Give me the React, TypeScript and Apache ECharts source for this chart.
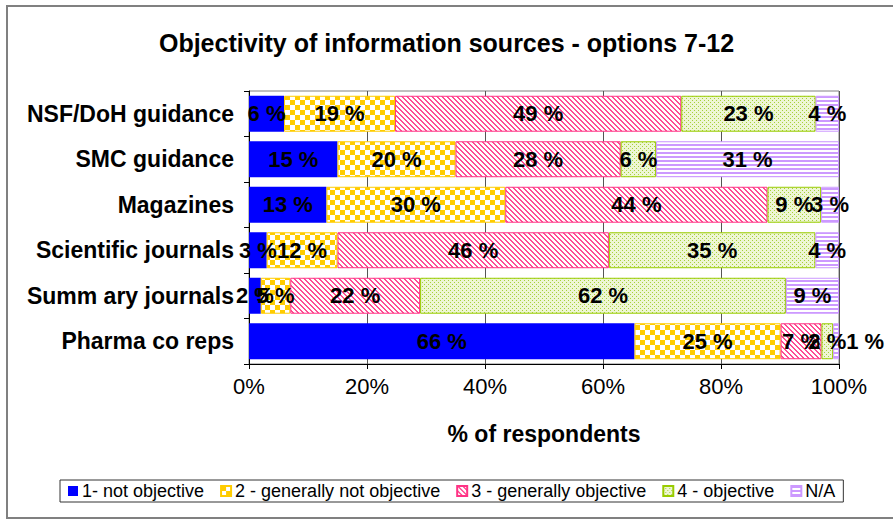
import React, { useEffect, useRef } from "react";
import * as echarts from "echarts";

const categories = [
  "Pharma co reps",
  "Summ ary journals",
  "Scientific journals",
  "Magazines",
  "SMC guidance",
  "NSF/DoH guidance",
];
const seriesNames = [
  "1- not objective",
  "2 - generally not objective",
  "3 - generally objective",
  "4 - objective",
  "N/A",
];
const notObjective = [66, 2, 3, 13, 15, 6];
const generallyNotObjective = [25, 5, 12, 30, 20, 19];
const generallyObjective = [7, 22, 46, 44, 28, 49];
const objective = [2, 62, 35, 9, 6, 23];
const notApplicable = [1, 9, 4, 3, 31, 4];
const xTicks = [0, 20, 40, 60, 80, 100];

const FONT = "'Liberation Sans', Arial, sans-serif";

function tile(w: number, h: number, draw: (c: CanvasRenderingContext2D) => void) {
  const c = document.createElement("canvas");
  c.width = w;
  c.height = h;
  const ctx = c.getContext("2d")!;
  draw(ctx);
  return { image: c, repeat: "repeat", imageWidth: w, imageHeight: h } as any;
}

export default function App() {
  const ref = useRef<HTMLDivElement>(null);
  useEffect(() => {
    document.body.style.margin = "0";
    const chart = echarts.init(ref.current!, null, { renderer: "svg" });

    const checker = tile(10, 10, (c) => {
      c.fillStyle = "#ffffff";
      c.fillRect(0, 0, 10, 10);
      c.fillStyle = "#FFCC00";
      c.fillRect(0, 0, 5, 5);
      c.fillRect(5, 5, 5, 5);
    });
    const diag = tile(5, 5, (c) => {
      c.fillStyle = "#ffffff";
      c.fillRect(0, 0, 5, 5);
      c.fillStyle = "#FF4D94";
      for (let y = 0; y < 5; y++)
        for (let x = 0; x < 5; x++) if (((x - y) % 5 + 5) % 5 < 2) c.fillRect(x, y, 1, 1);
    });
    const dots = tile(4, 4, (c) => {
      c.fillStyle = "#EEF6D4";
      c.fillRect(0, 0, 4, 4);
      c.fillStyle = "#A6D13A";
      c.fillRect(0, 0, 1, 1);
      c.fillRect(2, 2, 1, 1);
    });
    const hstripe = tile(4, 4, (c) => {
      c.fillStyle = "#ffffff";
      c.fillRect(0, 0, 4, 4);
      c.fillStyle = "#CC99FF";
      c.fillRect(0, 0, 4, 2);
    });

    const raw = [notObjective, generallyNotObjective, generallyObjective, objective, notApplicable];
    const totals = categories.map((_, i) => raw.reduce((s, arr) => s + arr[i], 0));
    const fills = ["#0000FF", checker, diag, dots, hstripe];
    const borders = ["#0000FF", "#FFCC00", "#FF3385", "#99CC00", "#CC99FF"];

    const series = raw.map((arr, k) => ({
      name: seriesNames[k],
      type: "bar",
      stack: "total",
      barCategoryGap: "21%",
      itemStyle: { color: fills[k], borderColor: borders[k], borderWidth: k === 0 ? 0 : 1 },
      label: {
        show: true,
        position: "inside",
        color: "#000",
        fontFamily: FONT,
        fontWeight: "bold",
        fontSize: 22,
        formatter: (p: any) => `${arr[p.dataIndex]} %`,
      },
      data: arr.map((v, i) => {
        const item: any = { value: (v / totals[i]) * 100 };
        if (k === raw.length - 1 && i === 0) item.label = { offset: [29, 0] };
        return item;
      }),
    }));

    chart.setOption({
      animation: false,
      backgroundColor: "#ffffff",
      title: {
        text: "Objectivity of information sources - options 7-12",
        left: "center",
        top: 25,
        textStyle: { fontFamily: FONT, fontWeight: "bold", fontSize: 25, color: "#000" },
      },
      graphic: [
        {
          type: "rect",
          shape: { x: 7, y: 6, width: 900, height: 512 },
          style: { fill: "none", stroke: "#808080", lineWidth: 2 },
          silent: true,
        },
      ],
      grid: {
        left: 249,
        right: 54,
        top: 91,
        bottom: 158,
        show: true,
        borderColor: "#808080",
        borderWidth: 1,
      },
      xAxis: {
        type: "value",
        min: 0,
        max: 100,
        interval: 20,
        name: "% of respondents",
        nameLocation: "middle",
        nameGap: 58,
        nameTextStyle: { fontFamily: FONT, fontWeight: "bold", fontSize: 23, color: "#000" },
        axisLine: { show: true, lineStyle: { color: "#000" } },
        axisTick: { show: true, length: 5, lineStyle: { color: "#000" } },
        axisLabel: {
          fontFamily: FONT,
          fontSize: 22,
          color: "#000",
          margin: 11,
          formatter: (v: number) => (xTicks.includes(v) ? `${v}%` : ""),
        },
        splitLine: { show: true, lineStyle: { color: "#555", width: 1 } },
      },
      yAxis: {
        type: "category",
        data: categories,
        axisLine: { show: true, lineStyle: { color: "#000" } },
        axisTick: { show: true, length: 5, lineStyle: { color: "#000" } },
        axisLabel: {
          fontFamily: FONT,
          fontWeight: "bold",
          fontSize: 23,
          color: "#000",
          margin: 15,
        },
      },
      legend: {
        left: 60,
        top: 480,
        orient: "horizontal",
        icon: "rect",
        itemWidth: 10,
        itemHeight: 10,
        itemGap: 16,
        padding: [2, 8, 2, 8],
        borderColor: "#333",
        borderWidth: 1,
        textStyle: { fontFamily: FONT, fontSize: 18, color: "#000", padding: [0, 0, 0, -1] },
        data: seriesNames,
      },
      series,
    });
    return () => chart.dispose();
  }, []);
  return <div ref={ref} style={{ width: 893, height: 522 }} />;
}
